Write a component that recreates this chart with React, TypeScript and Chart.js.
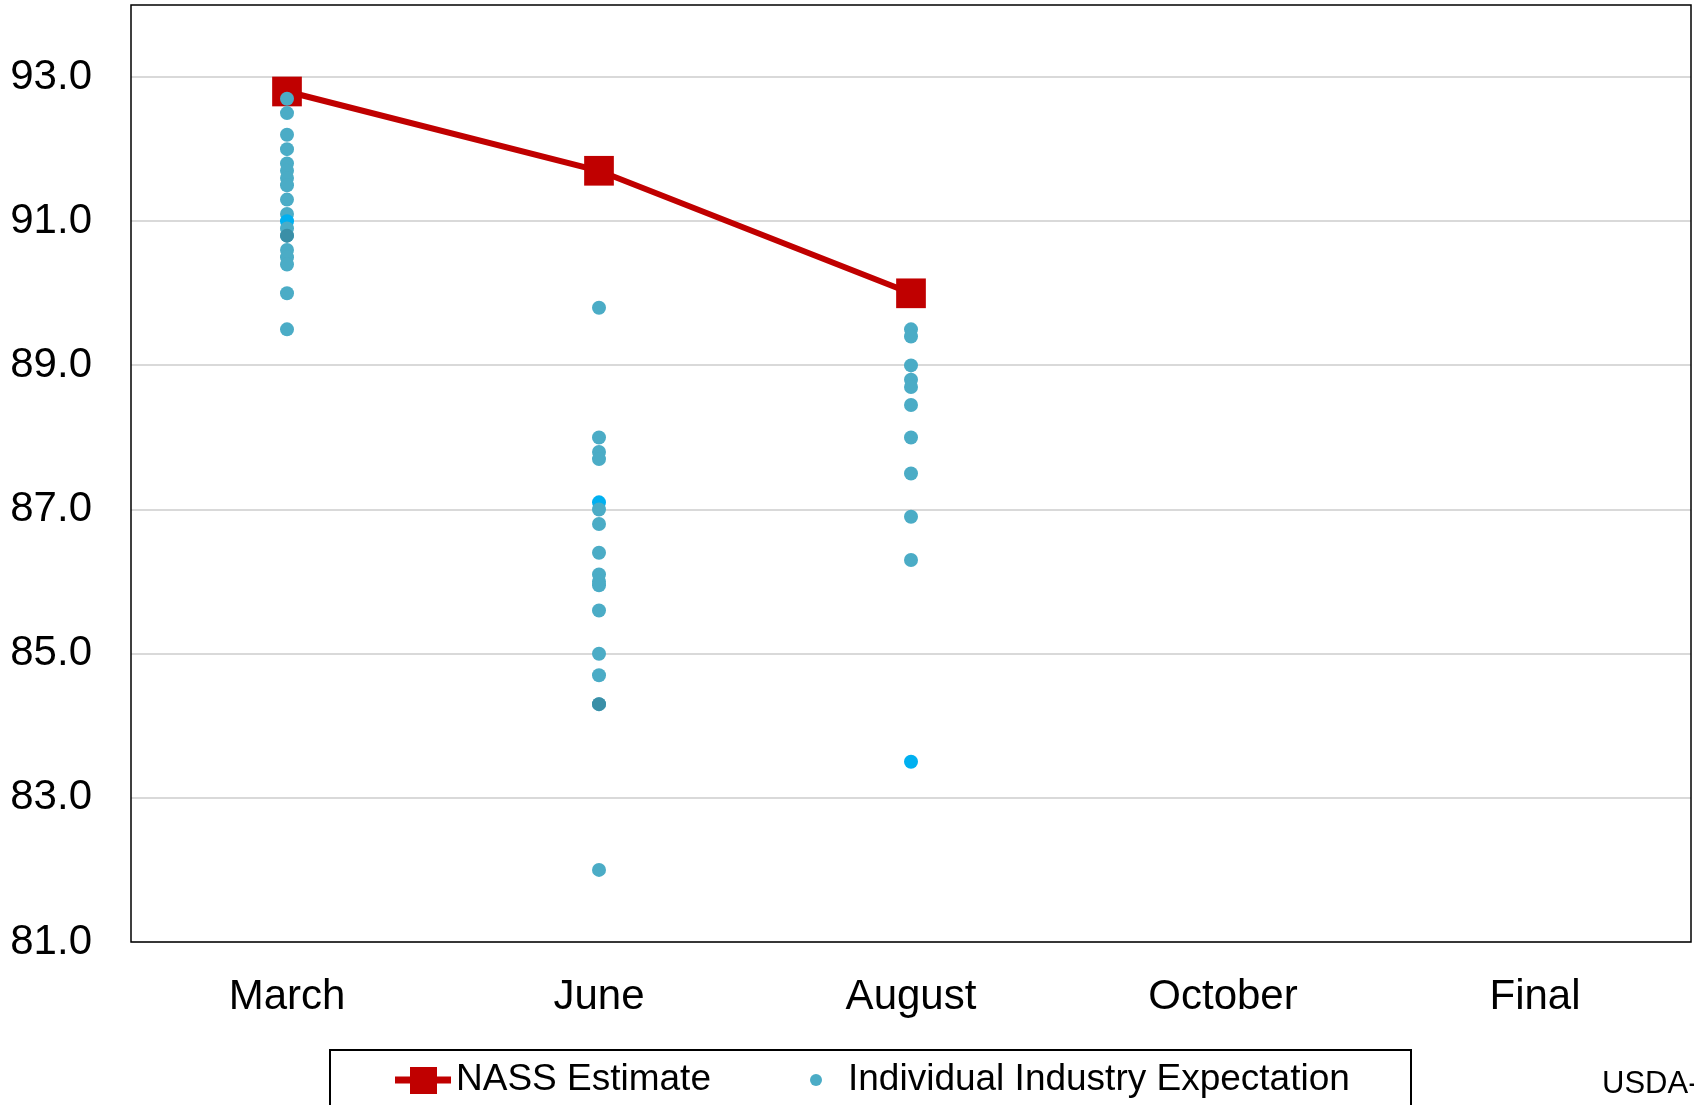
import React, { useEffect, useRef } from "react";
import { Chart, registerables } from "chart.js";

Chart.register(...registerables);

const categories = ["March", "June", "August", "October", "Final"];
const nassEstimate: (number | null)[] = [92.8, 91.7, 90.0, null, null];
const marchExpectations = [92.7, 92.5, 92.2, 92.0, 91.8, 91.7, 91.6, 91.5, 91.3, 91.1, 91.0, 90.9, 90.8, 90.8, 90.6, 90.5, 90.4, 90.0, 89.5];
const juneExpectations = [89.8, 88.0, 87.8, 87.7, 87.1, 87.0, 86.8, 86.4, 86.1, 86.0, 85.95, 85.6, 85.0, 84.7, 84.3, 84.3, 82.0];
const augustExpectations = [89.5, 89.4, 89.0, 88.8, 88.7, 88.45, 88.0, 87.5, 86.9, 86.3, 83.5];
const yTicks = [81, 83, 85, 87, 89, 91, 93];
const yMin = 81;
const yMax = 94;
const legendLabels = ["NASS Estimate", "Individual Industry Expectation"];
const sourceNote = "USDA-NASS";

const RED = "#C00000";
const DOT = "#4BACC6";
const DOT_BRIGHT = "#00B0F0";
const DOT_DARK = "#3A8FA7";
const FONT = "'Liberation Sans', Arial, sans-serif";

export default function App() {
  const ref = useRef<HTMLCanvasElement | null>(null);

  useEffect(() => {
    document.body.style.margin = "0";
    const canvas = ref.current;
    if (!canvas) return;

    const expectationPoints = [
      ...marchExpectations.map((y) => ({ x: categories[0], y })),
      ...juneExpectations.map((y) => ({ x: categories[1], y })),
      ...augustExpectations.map((y) => ({ x: categories[2], y })),
    ];
    // a few analysts' points are shown in other shades in the reference
    const mLen = marchExpectations.length;
    const jLen = juneExpectations.length;
    const brightIdx = new Set([10, mLen + 4, mLen + jLen + 10]);
    const darkIdx = new Set([13, mLen + 15]);

    const framePlugin = {
      id: "frame",
      afterDraw(chart: any) {
        const { ctx, chartArea } = chart;
        ctx.save();
        ctx.strokeStyle = "#000";
        ctx.lineWidth = 1.5;
        ctx.strokeRect(chartArea.left, chartArea.top, chartArea.right - chartArea.left, chartArea.bottom - chartArea.top);

        // legend box
        ctx.lineWidth = 2;
        ctx.strokeRect(330, 1050, 1081, 90);
        const ly = 1080;
        ctx.strokeStyle = RED;
        ctx.lineWidth = 7;
        ctx.beginPath();
        ctx.moveTo(395, ly);
        ctx.lineTo(451, ly);
        ctx.stroke();
        ctx.fillStyle = RED;
        ctx.fillRect(410, ly - 13, 27, 27);
        ctx.fillStyle = "#000";
        ctx.font = `37px ${FONT}`;
        ctx.textBaseline = "middle";
        ctx.textAlign = "left";
        ctx.fillText(legendLabels[0], 456, ly);
        ctx.fillStyle = DOT;
        ctx.beginPath();
        ctx.arc(816, ly, 6, 0, Math.PI * 2);
        ctx.fill();
        ctx.fillStyle = "#000";
        ctx.fillText(legendLabels[1], 848, ly);

        ctx.font = `31px ${FONT}`;
        ctx.fillText(sourceNote, 1602, 1084);
        ctx.restore();
      },
    };

    const chart = new Chart(canvas, {
      type: "line",
      data: {
        labels: categories,
        datasets: [
          {
            label: legendLabels[0],
            data: nassEstimate,
            borderColor: RED,
            backgroundColor: RED,
            borderWidth: 6,
            pointStyle: "rect",
            pointRadius: 21,
            pointBackgroundColor: RED,
            pointBorderColor: RED,
            pointBorderWidth: 0,
            spanGaps: false,
            order: 1,
          },
          {
            label: legendLabels[1],
            data: expectationPoints as any,
            showLine: false,
            pointStyle: "circle",
            pointRadius: 7,
            pointBorderWidth: 0,
            pointBackgroundColor: (c: any) =>
              brightIdx.has(c.dataIndex) ? DOT_BRIGHT : darkIdx.has(c.dataIndex) ? DOT_DARK : DOT,
            backgroundColor: DOT,
            borderColor: DOT,
            order: 0,
          },
        ],
      },
      options: {
        responsive: false,
        animation: false,
        devicePixelRatio: 1,
        layout: { autoPadding: false, padding: { top: 5, right: 3, left: 0, bottom: 0 } },
        plugins: { legend: { display: false }, tooltip: { enabled: false } },
        scales: {
          x: {
            type: "category",
            offset: true,
            grid: { display: false, drawTicks: false },
            border: { display: false },
            ticks: { color: "#000", font: { family: FONT, size: 42 }, padding: 30, maxRotation: 0 },
            afterFit(scale: any) {
              scale.height = 163;
              scale.paddingLeft = 0;
              scale.paddingRight = 0;
            },
          },
          y: {
            min: yMin,
            max: yMax,
            grid: { color: "#D9D9D9", lineWidth: 2, drawTicks: false },
            border: { display: false },
            ticks: {
              color: "#000",
              font: { family: FONT, size: 42 },
              padding: 39,
              callback: (v: any) => Number(v).toFixed(1),
            },
            afterBuildTicks(scale: any) {
              scale.ticks = yTicks.map((v) => ({ value: v }));
            },
            afterFit(scale: any) {
              scale.width = 131;
              scale.paddingTop = 0;
              scale.paddingBottom = 0;
            },
          },
        },
      },
      plugins: [framePlugin],
    });

    return () => chart.destroy();
  }, []);

  return (
    <div style={{ width: 1694, height: 1105, background: "#fff", overflow: "hidden" }}>
      <canvas ref={ref} width={1694} height={1105} style={{ display: "block" }} />
    </div>
  );
}
